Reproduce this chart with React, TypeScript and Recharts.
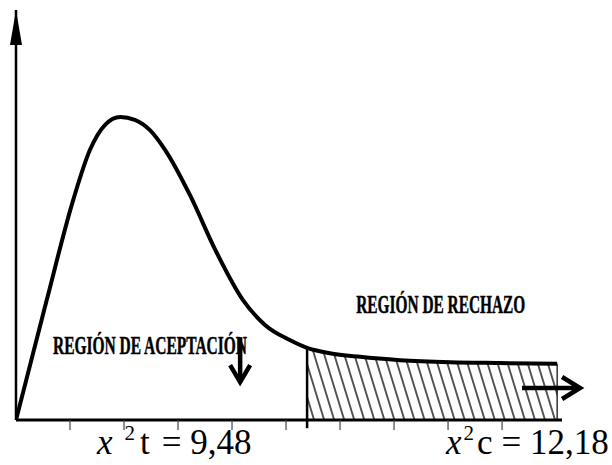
import React from "react";
import {
  ComposedChart,
  Line,
  Area,
  XAxis,
  YAxis,
  ReferenceLine,
  ReferenceDot,
} from "recharts";

// ---- data (arbitrary x units, density units) ----
const xs = [0, 0.57, 1.06, 1.37, 1.65, 1.93, 2.2, 2.48, 2.76, 3.22, 3.69, 4.2, 4.61, 5.07, 5.39, 5.81, 6.37, 7.11, 8.04, 8.96, 10.02];
const density = [0, 29.3, 53.7, 65.9, 72.0, 73.9, 73.2, 70.7, 65.9, 54.9, 41.5, 29.3, 23.2, 19.5, 17.6, 16.3, 15.4, 14.6, 14.1, 13.9, 13.7];
const rejectStart = 5.39;
const rejectEnd = 10.02;
const tickValues = [1, 2, 3, 4, 5, 6, 7, 8, 9];
const acceptLabel = "REGIÓN DE ACEPTACIÓN";
const rejectLabel = "REGIÓN DE RECHAZO";
const tableLabel = { sym: "x", sup: "2", letter: "t", value: "= 9,48" };
const calcLabel = { sym: "x", sup: "2", letter: "c", value: "= 12,18" };

const data = xs.map((x, i) => ({
  x,
  y: density[i],
  reject: x >= rejectStart ? density[i] : null,
}));

const valueAt = (x: number) => density[xs.indexOf(x)];

const SERIF = "'Liberation Serif', 'Times New Roman', Times, 'DejaVu Serif', serif";

const NoTick = () => <g />;

const titleText = (label: string, length: number) => (p: any) => (
  <g transform={`translate(${p.cx},${p.cy}) scale(1,1.6)`}>
    <text
      x={0}
      y={0}
      style={{ fontFamily: SERIF, fontWeight: 700, fontSize: 16 }}
      fill="#000"
      stroke="#000"
      strokeWidth={0.3}
      textLength={length}
      lengthAdjust="spacingAndGlyphs"
    >
      {label}
    </text>
  </g>
);

const chiText = (
  lab: { sym: string; sup: string; letter: string; value: string },
  gapSup: number,
  gapLetter: number,
  gapValue: number
) => (p: any) => (
  <text x={p.cx} y={p.cy} style={{ fontFamily: SERIF, fontSize: 35 }} fill="#000">
    <tspan style={{ fontStyle: "italic" }}>{lab.sym}</tspan>
    <tspan dx={gapSup} dy={-14} style={{ fontSize: 21 }}>{lab.sup}</tspan>
    <tspan dx={gapLetter} dy={14}>{lab.letter}</tspan>
    <tspan dx={gapValue}>{lab.value}</tspan>
  </text>
);

const downArrow = (p: any) => (
  <g stroke="#000" fill="none" strokeWidth={4.5}>
    <line x1={p.cx} y1={p.cy - 48} x2={p.cx} y2={p.cy - 3} />
    <polyline points={`${p.cx - 10},${p.cy - 20} ${p.cx},${p.cy - 3} ${p.cx + 10},${p.cy - 20}`} strokeLinejoin="miter" />
  </g>
);

const rightArrow = (p: any) => (
  <g stroke="#000" fill="none" strokeWidth={4.5}>
    <line x1={p.cx - 61} y1={p.cy} x2={p.cx - 3} y2={p.cy} />
    <polyline points={`${p.cx - 21},${p.cy - 11} ${p.cx - 3},${p.cy} ${p.cx - 21},${p.cy + 11}`} strokeLinejoin="miter" />
  </g>
);

const upArrowHead = (p: any) => (
  <polygon
    points={`${p.cx},${p.cy} ${p.cx - 6},${p.cy + 35} ${p.cx + 6},${p.cy + 35}`}
    fill="#000"
  />
);

export default function App() {
  return (
    <div style={{ position: "absolute", left: 0, top: 0, width: 612, height: 465, background: "#fff" }}>
      <ComposedChart
        width={612}
        height={465}
        data={data}
        margin={{ top: 10, right: 50, bottom: 15, left: 16 }}
      >
        <defs>
          <pattern
            id="hatch"
            width="9.6"
            height="9.6"
            patternUnits="userSpaceOnUse"
            patternTransform="rotate(-17)"
          >
            <line x1="4.8" y1="0" x2="4.8" y2="9.6" stroke="#000" strokeWidth="1.3" />
          </pattern>
        </defs>
        <XAxis
          dataKey="x"
          type="number"
          domain={[0, 10.11]}
          ticks={tickValues}
          allowDataOverflow
          tick={NoTick}
          tickSize={10}
          tickLine={{ stroke: "#444", strokeWidth: 1.2 }}
          axisLine={{ stroke: "#000", strokeWidth: 3 }}
          height={30}
        />
        <YAxis hide domain={[0, 100]} allowDataOverflow />
        <Area
          dataKey="reject"
          type="monotone"
          stroke="none"
          fill="url(#hatch)"
          fillOpacity={1}
          isAnimationActive={false}
          connectNulls={false}
          dot={false}
          activeDot={false}
        />
        <Line
          dataKey="y"
          type="monotone"
          stroke="#000"
          strokeWidth={4}
          dot={false}
          activeDot={false}
          isAnimationActive={false}
        />
        <ReferenceLine x={0} stroke="#000" strokeWidth={2.5} ifOverflow="visible" />
        <ReferenceLine
          segment={[{ x: rejectStart, y: -2 }, { x: rejectStart, y: valueAt(rejectStart) }]}
          stroke="#000"
          strokeWidth={2.5}
          ifOverflow="visible"
        />
        <ReferenceLine
          segment={[{ x: rejectEnd, y: 0 }, { x: rejectEnd, y: valueAt(rejectEnd) }]}
          stroke="#000"
          strokeWidth={1.2}
          ifOverflow="visible"
        />
        <ReferenceDot x={0} y={100} r={0} ifOverflow="visible" shape={upArrowHead} />
        <ReferenceDot x={0.685} y={16.1} r={0} ifOverflow="visible" shape={titleText(acceptLabel, 194)} />
        <ReferenceDot x={6.3} y={26.1} r={0} ifOverflow="visible" shape={titleText(rejectLabel, 169)} />
        <ReferenceDot x={4.15} y={8.5} r={0} ifOverflow="visible" shape={downArrow} />
        <ReferenceDot x={10.5} y={7.8} r={0} ifOverflow="visible" shape={rightArrow} />
        <ReferenceDot x={1.5} y={-8.4} r={0} ifOverflow="visible" shape={chiText(tableLabel, 12, 5, 12)} />
        <ReferenceDot x={7.96} y={-8.4} r={0} ifOverflow="visible" shape={chiText(calcLabel, 2, 3, 9)} />
      </ComposedChart>
    </div>
  );
}
